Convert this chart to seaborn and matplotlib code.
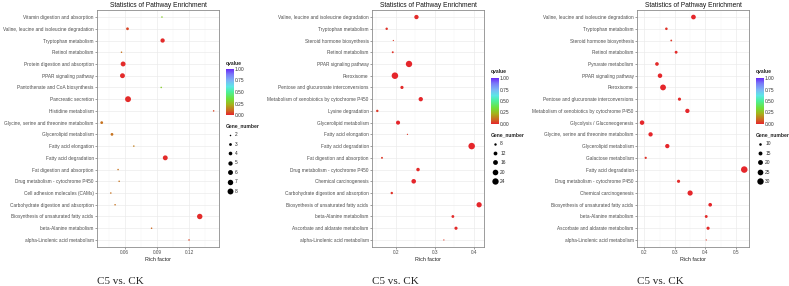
import numpy as np
import pandas as pd
import seaborn as sns
import matplotlib
import matplotlib.pyplot as plt
from matplotlib.colors import LinearSegmentedColormap, Normalize
from matplotlib.cm import ScalarMappable
from matplotlib.lines import Line2D

matplotlib.use("Agg")

sns.set_theme(style="white")
plt.rcParams["font.family"] = ["Liberation Sans", "DejaVu Sans"]

# ---- panel 1 data (top to bottom) ----
p1_pathways = [
    "Vitamin digestion and absorption",
    "Valine, leucine and isoleucine degradation",
    "Tryptophan metabolism",
    "Retinol metabolism",
    "Protein digestion and absorption",
    "PPAR signaling pathway",
    "Pantothenate and CoA biosynthesis",
    "Pancreatic secretion",
    "Histidine metabolism",
    "Glycine, serine and threonine metabolism",
    "Glycerolipid metabolism",
    "Fatty acid elongation",
    "Fatty acid degradation",
    "Fat digestion and absorption",
    "Drug metabolism - cytochrome P450",
    "Cell adhesion molecules (CAMs)",
    "Carbohydrate digestion and absorption",
    "Biosynthesis of unsaturated fatty acids",
    "beta-Alanine metabolism",
    "alpha-Linolenic acid metabolism",
]
p1_rich = [0.0947, 0.0625, 0.0953, 0.0569, 0.0584, 0.0578, 0.0940, 0.0630, 0.1430, 0.0384,
           0.0480, 0.0684, 0.0978, 0.0537, 0.0547, 0.0469, 0.0509, 0.1300, 0.0850, 0.1200]
p1_genes = [2, 3, 5, 2, 6, 6, 2, 8, 2, 3, 3, 2, 6, 2, 2, 2, 2, 7, 2, 2]
p1_qvalue = [0.30, 0.05, 0.01, 0.12, 0.01, 0.01, 0.30, 0.01, 0.05, 0.12,
             0.12, 0.14, 0.01, 0.12, 0.12, 0.12, 0.12, 0.01, 0.10, 0.05]

# ---- panel 2 data ----
p2_pathways = [
    "Valine, leucine and isoleucine degradation",
    "Tryptophan metabolism",
    "Steroid hormone biosynthesis",
    "Retinol metabolism",
    "PPAR signaling pathway",
    "Peroxisome",
    "Pentose and glucuronate interconversions",
    "Metabolism of xenobiotics by cytochrome P450",
    "Lysine degradation",
    "Glycerolipid metabolism",
    "Fatty acid elongation",
    "Fatty acid degradation",
    "Fat digestion and absorption",
    "Drug metabolism - cytochrome P450",
    "Chemical carcinogenesis",
    "Carbohydrate digestion and absorption",
    "Biosynthesis of unsaturated fatty acids",
    "beta-Alanine metabolism",
    "Ascorbate and aldarate metabolism",
    "alpha-Linolenic acid metabolism",
]
p2_rich = [0.253, 0.177, 0.194, 0.1925, 0.234, 0.198, 0.216, 0.264, 0.153, 0.206,
           0.230, 0.394, 0.165, 0.257, 0.246, 0.190, 0.413, 0.346, 0.354, 0.323]
p2_genes = [14, 8, 6, 7, 24, 25, 10, 14, 8, 13, 6, 25, 7, 11, 15, 8, 18, 9, 10, 6]
p2_qvalue = [0.01, 0.02, 0.03, 0.02, 0.0, 0.0, 0.01, 0.0, 0.03, 0.0,
             0.03, 0.0, 0.03, 0.01, 0.0, 0.02, 0.0, 0.01, 0.01, 0.03]

# ---- panel 3 data ----
p3_pathways = [
    "Valine, leucine and isoleucine degradation",
    "Tryptophan metabolism",
    "Steroid hormone biosynthesis",
    "Retinol metabolism",
    "Pyruvate metabolism",
    "PPAR signaling pathway",
    "Peroxisome",
    "Pentose and glucuronate interconversions",
    "Metabolism of xenobiotics by cytochrome P450",
    "Glycolysis / Gluconeogenesis",
    "Glycine, serine and threonine metabolism",
    "Glycerolipid metabolism",
    "Galactose metabolism",
    "Fatty acid degradation",
    "Drug metabolism - cytochrome P450",
    "Chemical carcinogenesis",
    "Biosynthesis of unsaturated fatty acids",
    "beta-Alanine metabolism",
    "Ascorbate and aldarate metabolism",
    "alpha-Linolenic acid metabolism",
]
p3_rich = [0.361, 0.272, 0.288, 0.304, 0.241, 0.251, 0.261, 0.315, 0.341, 0.192,
           0.220, 0.275, 0.204, 0.528, 0.312, 0.350, 0.416, 0.403, 0.409, 0.403]
p3_genes = [19, 10, 8, 11, 14, 18, 26, 12, 17, 18, 17, 17, 9, 31, 12, 22, 14, 11, 12, 7]
p3_qvalue = [0.0, 0.02, 0.03, 0.01, 0.01, 0.0, 0.0, 0.01, 0.0, 0.0,
             0.0, 0.0, 0.02, 0.0, 0.01, 0.0, 0.0, 0.01, 0.01, 0.03]

caption = "C5 vs. CK"

# colour scale like the ggplot gradient (red -> green -> cyan -> blue -> purple)
cmap = LinearSegmentedColormap.from_list("qv", [
    (0.00, "#E5262B"), (0.10, "#CC6A22"), (0.22, "#A7B01A"), (0.35, "#6EE03A"),
    (0.50, "#4CF09A"), (0.62, "#5CE6E6"), (0.75, "#7DB4F6"), (0.88, "#7A7CF8"),
    (1.00, "#6A2AF6")])
qnorm = Normalize(0, 1)

W, H = 789, 286
fig = plt.figure(figsize=(W / 100, H / 100), dpi=100)

panels = [
    dict(path=p1_pathways, rich=p1_rich, genes=p1_genes, q=p1_qvalue,
         ax=(97, 10, 219, 247), xlim=(0.034, 0.148),
         major=[0.06, 0.09, 0.12], minor=[0.045, 0.075, 0.105, 0.135],
         fmt="{:.2f}", leg=[2, 3, 4, 5, 6, 7, 8], snorm=(2, 8), sizes=(1.2, 18),
         cbar=(226, 69, 233.5, 115), leg_top=123),
    dict(path=p2_pathways, rich=p2_rich, genes=p2_genes, q=p2_qvalue,
         ax=(372, 10, 484, 247), xlim=(0.1395, 0.4255),
         major=[0.2, 0.3, 0.4], minor=[0.15, 0.25, 0.35],
         fmt="{:.1f}", leg=[8, 12, 16, 20, 24], snorm=(6, 25), sizes=(0.8, 22),
         cbar=(491, 78, 498.5, 124), leg_top=132),
    dict(path=p3_pathways, rich=p3_rich, genes=p3_genes, q=p3_qvalue,
         ax=(637, 10, 749, 247), xlim=(0.1754, 0.5436),
         major=[0.2, 0.3, 0.4, 0.5], minor=[0.25, 0.35, 0.45],
         fmt="{:.1f}", leg=[10, 15, 20, 25, 30], snorm=(7, 31), sizes=(0.8, 22),
         cbar=(756, 78, 763.5, 124), leg_top=132),
]


def frac(x0, y0, x1, y1):
    return [x0 / W, 1 - y1 / H, (x1 - x0) / W, (y1 - y0) / H]


for p in panels:
    df = pd.DataFrame({"Pathway": p["path"], "Rich": p["rich"],
                       "Gene_number": p["genes"], "qvalue": p["q"]})
    ax = fig.add_axes(frac(*p["ax"]))
    ax.set_axisbelow(True)
    sns.scatterplot(data=df, x="Rich", y="Pathway", hue="qvalue", palette=cmap,
                    hue_norm=qnorm, size="Gene_number", sizes=p["sizes"],
                    size_norm=p["snorm"], linewidth=0, legend=False, ax=ax, zorder=3)
    n = len(p["path"])
    ax.set_ylim(n - 0.4, -0.6)
    ax.set_xlim(*p["xlim"])
    ax.set_xticks(p["major"])
    ax.set_xticklabels([p["fmt"].format(v) for v in p["major"]])
    ax.set_xticks(p["minor"], minor=True)
    ax.grid(which="major", color="#EBEBEB", linewidth=0.5)
    ax.grid(which="minor", axis="x", color="#F4F4F4", linewidth=0.3)
    for s in ax.spines.values():
        s.set_color("#8C8C8C")
        s.set_linewidth(0.6)
    ax.tick_params(axis="both", which="major", length=1.5, width=0.4, pad=1,
                   labelsize=3.4, labelcolor="#4D4D4D", color="#555555",
                   left=True, bottom=True)
    ax.tick_params(which="minor", length=0)
    ax.set_xlabel("Rich factor", fontsize=3.9, labelpad=1.2, color="#222222")
    ax.set_ylabel("")
    ax.set_title("Statistics of Pathway Enrichment", fontsize=4.8, pad=2.2,
                 color="#111111")

    # qvalue colour bar
    cax = fig.add_axes(frac(*p["cbar"]))
    cb = fig.colorbar(ScalarMappable(norm=qnorm, cmap=cmap), cax=cax,
                      ticks=[0, 0.25, 0.5, 0.75, 1])
    cb.ax.set_yticklabels(["0.00", "0.25", "0.50", "0.75", "1.00"])
    cb.outline.set_visible(False)
    cb.ax.tick_params(length=1.2, width=0.3, color="white", direction="in",
                      labelsize=3.5, pad=1, labelcolor="#333333")
    x0, y0 = p["cbar"][0], p["cbar"][1]
    fig.text(x0 / W, 1 - (y0 - 6) / H, "qvalue", fontsize=3.6,
             fontweight="bold", va="center", ha="left", color="#222222")

    # Gene_number size legend
    lo, hi = p["snorm"]
    s0, s1 = p["sizes"]
    handles = [Line2D([], [], marker="o", linestyle="", color="black",
                      markeredgewidth=0,
                      markersize=np.sqrt(s0 + (v - lo) / (hi - lo) * (s1 - s0)))
               for v in p["leg"]]
    leg = fig.legend(handles, [str(v) for v in p["leg"]], title="Gene_number",
                     loc="upper left", bbox_to_anchor=(x0 / W, 1 - p["leg_top"] / H),
                     frameon=False, fontsize=3.5, title_fontsize=3.6,
                     borderpad=0, borderaxespad=0, handlelength=1.6,
                     handletextpad=0.3, labelspacing=0.9, alignment="left")
    leg.get_title().set_fontweight("bold")

    # caption under panel
    fig.text(p["ax"][0] / W, 1 - 281 / H, caption, fontsize=8,
             family=["Liberation Serif", "DejaVu Serif"], va="center", ha="left")

fig.savefig("out.png", dpi=100)
